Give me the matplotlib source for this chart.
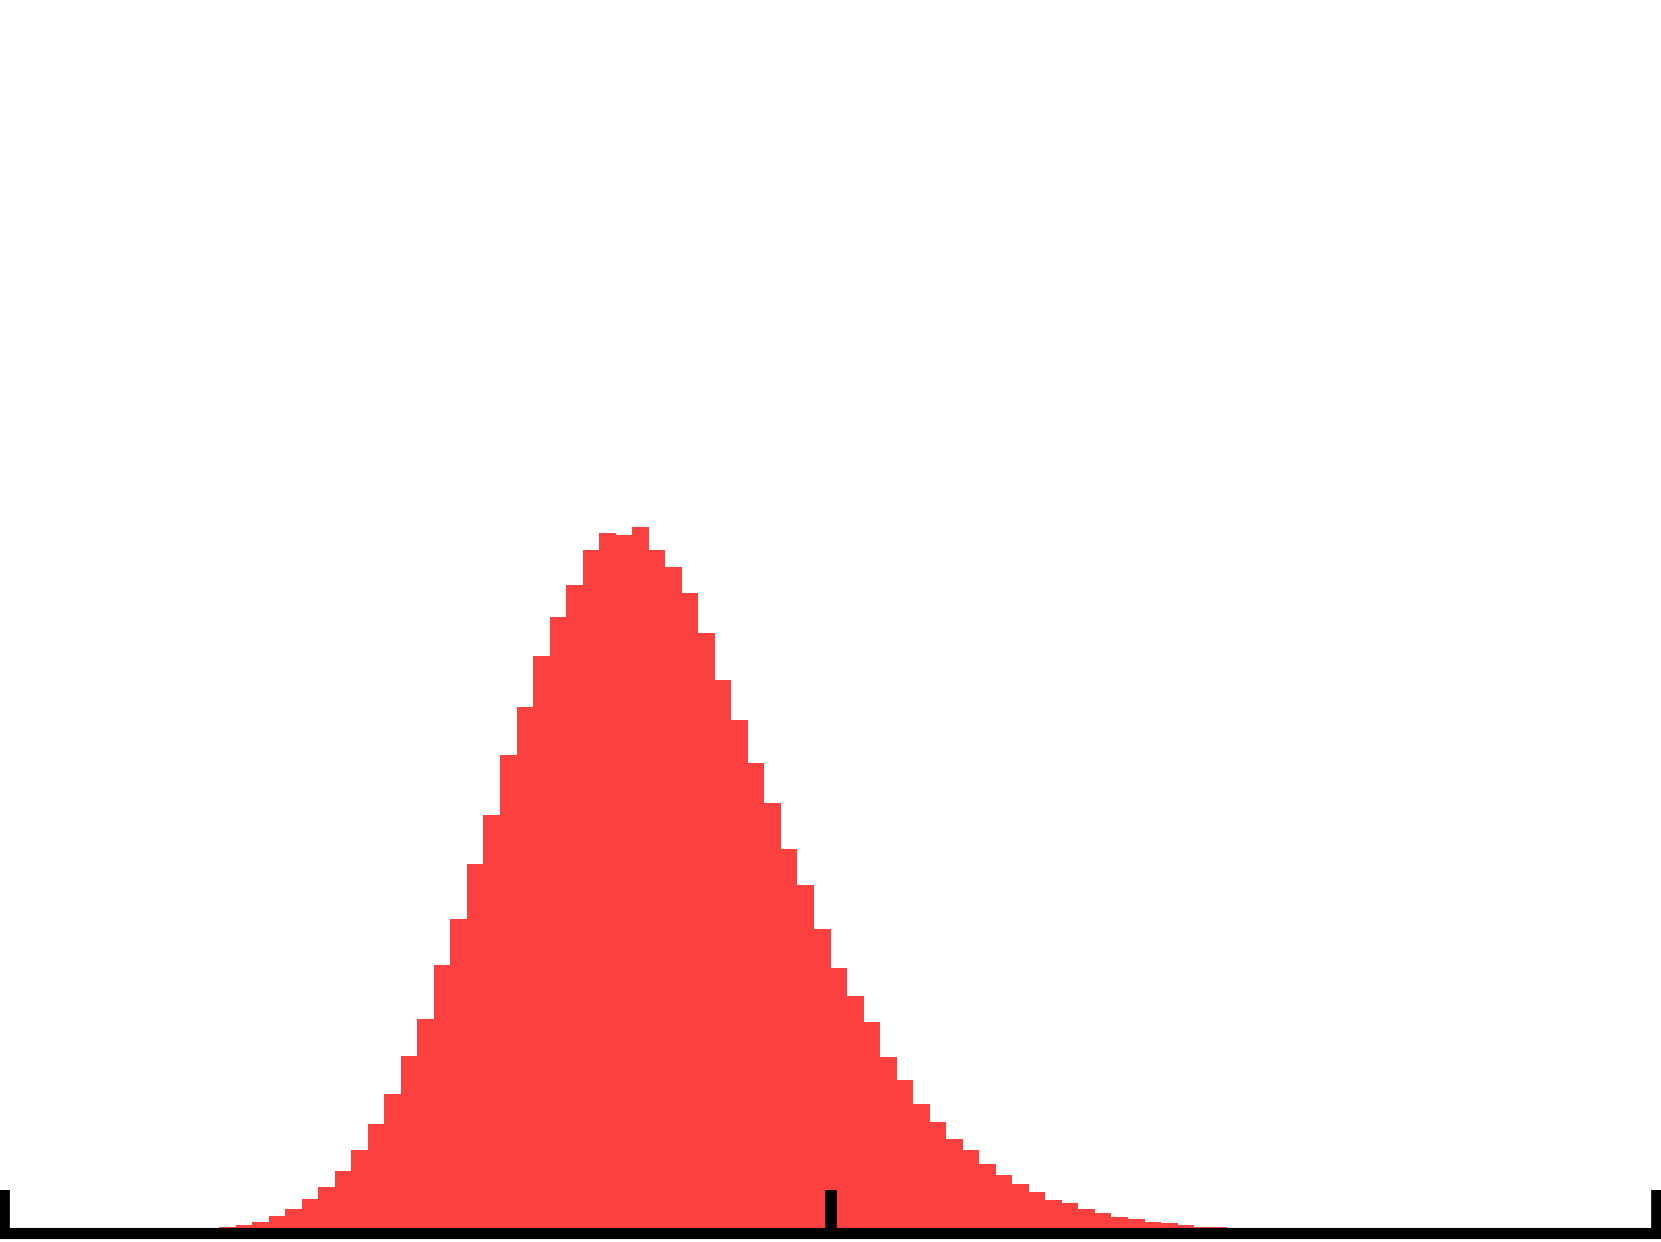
import matplotlib
matplotlib.use("Agg")
import matplotlib.pyplot as plt
import numpy as np

# Histogram bins (left edges, width 1) and bar heights
bin_left = list(range(11, 76))
counts = [3.0, 4.5,
          6.3, 7.7, 11.0, 16.7, 24.0, 33.7, 45.7, 62.3, 83.3, 109.3,
          138.7, 176.7, 213.7, 267.7, 314.3, 368.7, 418.3, 478.3, 525.7, 577.0,
          616.3, 647.7, 682.7, 699.7, 698.0, 705.7, 682.7, 666.3, 639.7, 599.7,
          552.7, 513.0, 470.3, 430.3, 383.7, 348.0, 304.0, 264.7, 237.3, 210.7,
          176.3, 152.7, 129.0, 111.3, 94.3, 83.3, 69.0, 57.7, 48.7, 40.7,
          32.7, 29.7, 23.7, 20.0, 16.3, 13.7, 11.0, 9.7, 7.7, 6.3,
          5.7, 4.8, 4.0]
x_ticks = [0, 50, 100]

W, H = 1661, 1242
fig = plt.figure(figsize=(W / 100, H / 100), dpi=100)
left = 4.2 / W
right = 1656.85 / W
bottom = (H - 1233) / H
ax = fig.add_axes([left, bottom, right - left, 1 - bottom])

ax.bar(bin_left, counts, width=1.0, align="edge", color="#fc4040",
       edgecolor="none", linewidth=0)

ax.set_xlim(0, 100)
ax.set_ylim(0, 1233)
for s in ["left", "right", "top"]:
    ax.spines[s].set_visible(False)
ax.spines["bottom"].set_linewidth(8)
ax.spines["bottom"].set_color("black")
ax.spines["bottom"].set_zorder(5)
ax.set_yticks([])
ax.set_xticks(x_ticks)
ax.set_xticklabels([])
ax.tick_params(axis="x", direction="in", length=31, width=8.4, color="black")
ax.patch.set_visible(False)

fig.savefig("out.png", dpi=100)
